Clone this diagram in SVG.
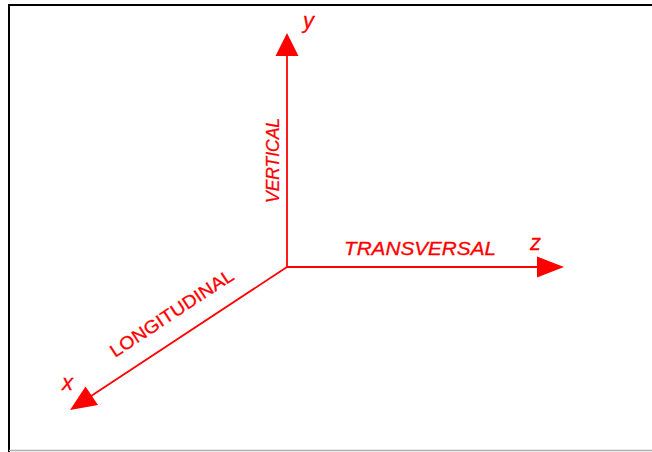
<svg xmlns="http://www.w3.org/2000/svg" width="652" height="452" viewBox="0 0 652 452">
<style>
.axis{stroke:#ff0000;stroke-width:1.8;fill:none}
.head{fill:#ff0000;stroke:none}
.lbl{fill:#ff0000;stroke:#ff0000;stroke-width:0.3;font-family:"Liberation Sans",Arial,sans-serif;font-size:18px}
.var{fill:#ff0000;stroke:#ff0000;stroke-width:0.3;font-family:"Liberation Sans",Arial,sans-serif;font-size:22px;font-style:italic}
</style>
<rect x="0" y="0" width="652" height="452" fill="#ffffff"/>
<g id="frame">
<line x1="9" y1="5" x2="652" y2="5" stroke="#000" stroke-width="2"/>
<line x1="9" y1="4" x2="9" y2="452" stroke="#000" stroke-width="2"/>
<line x1="9" y1="450.5" x2="652" y2="450.5" stroke="#b0b0b0" stroke-width="1.5"/>
</g>
<g id="connectors">
<line class="axis" x1="287" y1="267" x2="287" y2="50"/>
<polygon class="head" points="287,33 298.5,56 275.5,56"/>
<line class="axis" x1="287" y1="267" x2="545" y2="267"/>
<polygon class="head" points="564,267 537,256.5 537,277.5"/>
<line class="axis" x1="287" y1="267" x2="85" y2="400"/>
<polygon class="head" points="70,410 98,405 85.5,386.5"/>
</g>
<g id="y-axis">
<text class="var" x="303" y="28">y</text>
<text class="lbl" font-style="italic" transform="translate(279,203) rotate(-90)" textLength="85" lengthAdjust="spacingAndGlyphs">VERTICAL</text>
</g>
<g id="z-axis">
<text class="var" x="530" y="250">z</text>
<text class="lbl" font-style="italic" x="344" y="255" textLength="152" lengthAdjust="spacingAndGlyphs">TRANSVERSAL</text>
</g>
<g id="x-axis">
<text class="var" x="62" y="390">x</text>
<text class="lbl" transform="translate(115,358) rotate(-33.4)" textLength="144" lengthAdjust="spacingAndGlyphs">LONGITUDINAL</text>
</g>
</svg>
